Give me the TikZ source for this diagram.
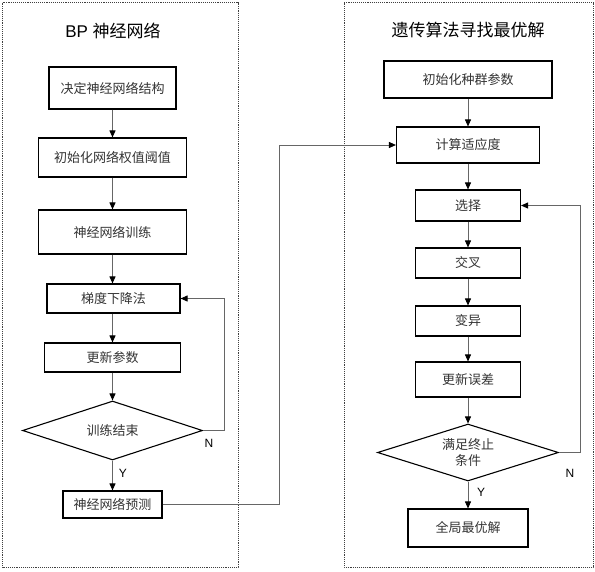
\documentclass[tikz,border=0pt]{standalone}
\usepackage{fontspec}
\setmainfont{Liberation Sans}
\newfontfamily\cjk{Noto Sans CJK SC}
\usetikzlibrary{shapes.geometric,arrows.meta}
\begin{document}
\begin{tikzpicture}[x=1pt,y=-1pt,
  box/.style={draw=black,line width=1.1pt,inner sep=0pt,text=black!80,font=\cjk\fontsize{13}{16}\selectfont},
  dec/.style={draw=black,line width=1.1pt,diamond,inner sep=0pt,text=black!80,font=\cjk\fontsize{13}{16}\selectfont,align=center},
  conn/.style={draw=black!60,line width=0.9pt,-{Triangle[length=7pt,width=6pt,fill=black,color=black]}},
  frame/.style={draw=black!75,line width=0.9pt,densely dotted},
  lbl/.style={font=\fontsize{12}{14}\selectfont,text=black},
  ttl/.style={font=\fontsize{17}{20}\selectfont,text=black}]
\useasboundingbox (0,0) rectangle (595,571);
% frames
\draw[frame] (2.5,2.5) rectangle (238,567);
\draw[frame] (344,2.5) rectangle (593,567);
\node[ttl] (t1) at (113,31) {BP {\cjk 神经网络}};
\node[ttl] (t2) at (468,30) {\cjk 遗传算法寻找最优解};
% left column
\node[box,minimum width=127pt,minimum height=42pt] (b1) at (112.5,88) {决定神经网络结构};
\node[box,minimum width=148pt,minimum height=39pt] (b2) at (112.5,157.5) {初始化网络权值阈值};
\node[box,minimum width=148pt,minimum height=44pt] (b3) at (112.5,232) {神经网络训练};
\node[box,minimum width=133pt,minimum height=29pt] (b4) at (113.5,298.5) {梯度下降法};
\node[box,minimum width=136pt,minimum height=29pt] (b5) at (112.5,357.5) {更新参数};
\node[dec,minimum width=180pt,minimum height=59pt,shape aspect=3.05] (d1) at (112.5,430.5) {训练结束};
\node[box,minimum width=99pt,minimum height=27pt] (b6) at (112.5,504.5) {神经网络预测};
% right column
\node[box,minimum width=168pt,minimum height=37pt] (r1) at (468,79.5) {初始化种群参数};
\node[box,minimum width=143pt,minimum height=36pt] (r2) at (468,145) {计算适应度};
\node[box,minimum width=105pt,minimum height=31pt] (r3) at (468,205.5) {选择};
\node[box,minimum width=105pt,minimum height=30pt] (r4) at (468,263) {交叉};
\node[box,minimum width=105pt,minimum height=30pt] (r5) at (468,321) {变异};
\node[box,minimum width=105pt,minimum height=35pt] (r6) at (468,379.5) {更新误差};
\node[dec,minimum width=181pt,minimum height=57pt,shape aspect=3.18] (d2) at (468,452.5) {满足终止\\条件};
\node[box,minimum width=120pt,minimum height=38pt] (r7) at (468,528) {全局最优解};
% left connectors
\draw[conn] (b1.south) -- (b2.north);
\draw[conn] (b2.south) -- (b3.north);
\draw[conn] (b3.south) -- (b3.south |- b4.north);
\draw[conn] (b4.south -| b5.north) -- (b5.north);
\draw[conn] (b5.south) -- (d1.north);
\draw[conn] (d1.south) -- (b6.north);
\coordinate (c1) at (224,430.5);
\draw[conn] (d1.east) -- (c1) |- (b4.east);
\coordinate (c2) at (279,504.5);
\draw[conn] (b6.east) -- (c2) |- (r2.west);
% right connectors
\draw[conn] (r1.south) -- (r2.north);
\draw[conn] (r2.south) -- (r3.north);
\draw[conn] (r3.south) -- (r4.north);
\draw[conn] (r4.south) -- (r5.north);
\draw[conn] (r5.south) -- (r6.north);
\draw[conn] (r6.south) -- (d2.north);
\draw[conn] (d2.south) -- (r7.north);
\coordinate (c3) at (580,452.5);
\draw[conn] (d2.east) -- (c3) |- (r3.east);
% labels
\node[lbl] (n1) at (209,443) {N};
\node[lbl] (y1) at (123,473) {Y};
\node[lbl] (n2) at (570,473) {N};
\node[lbl] (y2) at (481,492) {Y};
\end{tikzpicture}
\end{document}
